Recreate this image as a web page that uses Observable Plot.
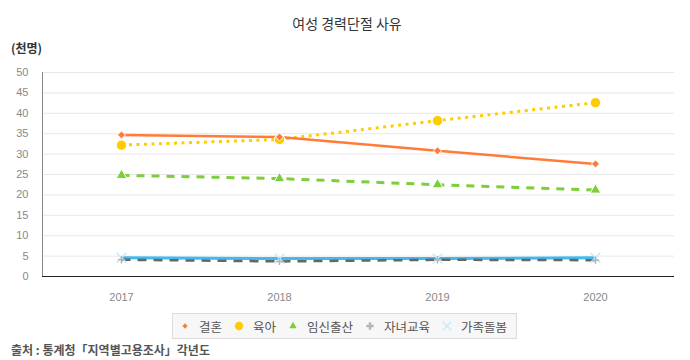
<!DOCTYPE html>
<html>
<head>
<meta charset="utf-8">
<script src="https://cdn.jsdelivr.net/npm/d3@7"></script>
<script src="https://cdn.jsdelivr.net/npm/@observablehq/plot@0.6"></script>
<style>
  html, body { margin: 0; padding: 0; background: #fff; }
  body { width: 690px; height: 360px; position: relative; overflow: hidden;
         font-family: "Liberation Sans", "Noto Sans CJK KR", sans-serif; }
  #title { position: absolute; left: 0; width: 694px; top: 13px; text-align: center;
           font-size: 14px; color: #333; font-family: "Noto Sans CJK KR", sans-serif; }
  #unit { position: absolute; left: 11px; top: 39px; font-size: 12px; color: #333; font-weight: bold;
          font-family: "Noto Sans CJK KR", sans-serif; }
  #chart { position: absolute; left: 0; top: 0; }
  #legend { position: absolute; left: 172px; top: 313px; width: 343px; height: 24px;
            background: #f7f7f7; border: 1px solid #dcdcdc; display: flex; align-items: center;
            font-size: 12.5px; color: #555; font-family: "Noto Sans CJK KR", sans-serif; }
  .item { display: flex; align-items: center; margin-left: 5px; margin-right: 5px; }
  .item svg { margin-right: 7px; }
  #source { position: absolute; left: 11px; top: 341px; font-size: 12px; color: #555; font-weight: bold;
            font-family: "Noto Sans CJK KR", sans-serif; }
</style>
</head>
<body>
<div id="chart"></div>
<div id="title">여성 경력단절 사유</div>
<div id="unit">(천명)</div>
<div id="legend"></div>
<div id="source">출처 : 통계청「지역별고용조사」각년도</div>
<script>
const years = ["2017", "2018", "2019", "2020"];
const seriesNames = ["결혼", "육아", "임신출산", "자녀교육", "가족돌봄"];
const marriage = [34.7, 34.2, 30.8, 27.6];
const childcare = [32.2, 33.6, 38.2, 42.6];
const pregnancy = [24.8, 24.0, 22.5, 21.2];
const education = [4.1, 3.7, 4.1, 4.0];
const familyCare = [4.6, 4.4, 4.4, 4.6];
const yTicks = [0, 5, 10, 15, 20, 25, 30, 35, 40, 45, 50];

const values = [marriage, childcare, pregnancy, education, familyCare];
const styles = [
  {stroke: "#ff7b3a", dash: null, width: 2.5, symbol: "diamond2", r: 3.6, fill: "#ff7b3a"},
  {stroke: "#ffcc00", dash: "3,4.5", width: 3, symbol: "circle", r: 5.2, fill: "#ffcc00"},
  {stroke: "#7ccf38", dash: "8,7", width: 3, symbol: "triangle", r: 4, fill: "#7ccf38"},
  {stroke: "#666666", dash: "9,7", width: 2.5, symbol: "plus", r: 2.5, fill: "#b5b5b5"},
  {stroke: "#40baf0", dash: null, width: 3, symbol: "times", r: 4.5, fill: "#c9eafb"}
];

const data = [];
seriesNames.forEach((s, i) => years.forEach((y, j) => data.push({series: s, year: y, value: values[i][j], idx: i})));

const marks = [
  Plot.gridY(yTicks.slice(1), {stroke: "#e8e8e8", strokeOpacity: 1}),
  Plot.axisY(yTicks, {tickSize: 0, tickPadding: 14, fontSize: 11, fill: "#888", label: null}),
  Plot.axisX(years, {tickSize: 0, tickPadding: 17, fontSize: 11, fill: "#888", label: null}),
  Plot.frame({anchor: "left", stroke: "#888"}),
  Plot.ruleY([0], {stroke: "#222"})
];
[4, 3, 2, 1, 0].forEach(i => {
  const st = styles[i];
  const d = data.filter(e => e.idx === i);
  marks.push(Plot.line(d, {x: "year", y: "value", stroke: st.stroke, strokeWidth: st.width,
    strokeDasharray: st.dash, strokeLinecap: "butt"}));
});
[4, 3, 2, 1, 0].forEach(i => {
  const st = styles[i];
  const d = data.filter(e => e.idx === i);
  if (st.symbol === "plus" || st.symbol === "times") {
    marks.push(Plot.dot(d, {x: "year", y: "value", symbol: st.symbol, r: st.r, stroke: st.fill, strokeWidth: 1.5}));
  } else {
    marks.push(Plot.dot(d, {x: "year", y: "value", symbol: st.symbol, r: st.r, fill: st.fill, stroke: "#fff", strokeWidth: 1}));
  }
});

const chart = Plot.plot({
  width: 690, height: 360,
  marginLeft: 42, marginRight: 16, marginTop: 72, marginBottom: 84,
  style: {fontFamily: "Liberation Sans, Noto Sans CJK KR, sans-serif", background: "transparent"},
  x: {type: "point", domain: years, padding: 0.5, axis: null},
  y: {domain: [0, 50], axis: null},
  marks
});
document.getElementById("chart").appendChild(chart);

// legend
const legend = document.getElementById("legend");
const symMap = {diamond2: d3.symbolSquare, circle: d3.symbolCircle, triangle: d3.symbolTriangle, plus: d3.symbolCross, times: d3.symbolTimes};
const sizes = [14, 55, 24, 30, 50];
seriesNames.forEach((s, i) => {
  const st = styles[i];
  const item = document.createElement("div");
  item.className = "item";
  const sym = d3.symbol(symMap[st.symbol], sizes[i])();
  const rot = st.symbol === "diamond2" ? ' transform="rotate(45)"' : '';
  const isTimes = st.symbol === "times";
  item.innerHTML = `<svg width="14" height="14" viewBox="-7 -7 14 14"><path d="${sym}"${rot} fill="${isTimes ? 'none' : st.fill}" stroke="${isTimes ? st.fill : 'none'}" stroke-width="1.5"></path></svg><span>${s}</span>`;
  legend.appendChild(item);
});
</script>
</body>
</html>
